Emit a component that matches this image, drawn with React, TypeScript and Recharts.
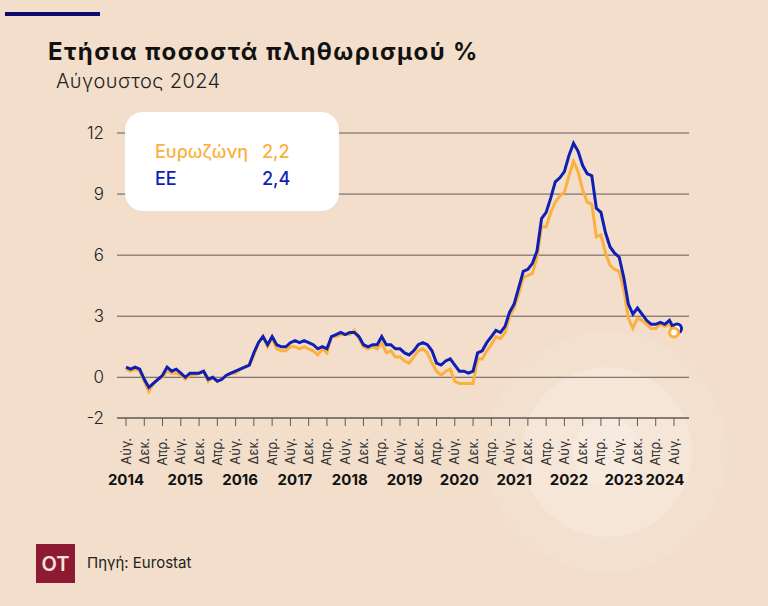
import { CartesianGrid, Legend, Line, LineChart, XAxis, YAxis } from 'recharts';

// Μηνιαία δεδομένα Αύγ. 2014 – Αύγ. 2024 (ετήσιος πληθωρισμός %, Eurostat)
const euroArea: number[] = [
  0.4, 0.3, 0.4, 0.3, -0.2,
  -0.7, -0.3, -0.1, 0.0, 0.3, 0.2, 0.2, 0.1, -0.1, 0.1, 0.1, 0.2,
  0.3, -0.2, 0.0, -0.2, -0.1, 0.1, 0.2, 0.2, 0.4, 0.5, 0.6, 1.1,
  1.7, 2.0, 1.5, 1.9, 1.4, 1.3, 1.3, 1.5, 1.5, 1.4, 1.5, 1.4,
  1.3, 1.1, 1.4, 1.2, 2.0, 2.0, 2.1, 2.1, 2.1, 2.3, 1.9, 1.5,
  1.4, 1.5, 1.4, 1.7, 1.2, 1.3, 1.0, 1.0, 0.8, 0.7, 1.0, 1.3,
  1.4, 1.2, 0.7, 0.3, 0.1, 0.3, 0.4, -0.2, -0.3, -0.3, -0.3, -0.3,
  0.9, 0.9, 1.3, 1.6, 2.0, 1.9, 2.2, 3.0, 3.4, 4.1, 4.9, 5.0,
  5.1, 5.9, 7.4, 7.4, 8.1, 8.6, 8.9, 9.1, 9.9, 10.6, 10.1, 9.2,
  8.6, 8.5, 6.9, 7.0, 6.1, 5.5, 5.3, 5.2, 4.3, 2.9, 2.4, 2.9,
  2.8, 2.6, 2.4, 2.4, 2.6, 2.5, 2.6, 2.2,
];

const eu: number[] = [
  0.5, 0.4, 0.5, 0.4, -0.1,
  -0.5, -0.3, -0.1, 0.1, 0.5, 0.3, 0.4, 0.2, 0.0, 0.2, 0.2, 0.2,
  0.3, -0.1, 0.0, -0.2, -0.1, 0.1, 0.2, 0.3, 0.4, 0.5, 0.6, 1.2,
  1.7, 2.0, 1.6, 2.0, 1.6, 1.5, 1.5, 1.7, 1.8, 1.7, 1.8, 1.7,
  1.6, 1.4, 1.5, 1.4, 2.0, 2.1, 2.2, 2.1, 2.2, 2.2, 2.0, 1.6,
  1.5, 1.6, 1.6, 2.0, 1.6, 1.6, 1.4, 1.4, 1.2, 1.1, 1.3, 1.6,
  1.7, 1.6, 1.3, 0.7, 0.6, 0.8, 0.9, 0.6, 0.3, 0.3, 0.2, 0.3,
  1.2, 1.3, 1.7, 2.0, 2.3, 2.2, 2.5, 3.2, 3.6, 4.4, 5.2, 5.3,
  5.6, 6.2, 7.8, 8.1, 8.8, 9.6, 9.8, 10.1, 10.9, 11.5, 11.1, 10.4,
  10.0, 9.9, 8.3, 8.1, 7.1, 6.4, 6.1, 5.9, 4.9, 3.6, 3.1, 3.4,
  3.1, 2.8, 2.6, 2.6, 2.7, 2.6, 2.8, 2.4,
];

// κατηγορίες: "2014-08" ... "2024-08"
const months: string[] = [];
for (let y = 2014, m = 8; months.length < euroArea.length; m++) {
  if (m > 12) { m = 1; y++; }
  months.push(`${y}-${String(m).padStart(2, '0')}`);
}

const monthNames: Record<string, string> = { '04': 'Απρ.', '08': 'Αύγ.', '12': 'Δεκ.' };
const monthTicks = months.filter((m) => m.slice(5) in monthNames);
const yearTicks = [
  '2014-08', '2015-09', '2016-09', '2017-09', '2018-09', '2019-09',
  '2020-09', '2021-09', '2022-09', '2023-09', '2024-06',
];
const yTicks = [-2, 0, 3, 6, 9, 12];

const data = months.map((month, i) => ({ month, euroArea: euroArea[i], eu: eu[i] }));
const last = data.length - 1;

const ORANGE = '#FBB03F';
const BLUE = '#0E1FB6';
const BG = '#F2DECB';
const FONT = 'Inter, "Noto Sans", sans-serif';

const fmt = (v: number) => v.toFixed(1).replace('.', ',');

const MonthTick = ({ x, y, payload }: any) => (
  <text
    x={x}
    y={y}
    dy="0.35em"
    textAnchor="end"
    transform={`rotate(-90, ${x}, ${y})`}
    fontSize={13}
    fill="#333"
    fontFamily={FONT}
  >
    {monthNames[String(payload.value).slice(5)]}
  </text>
);

// κυκλάκι μόνο στο τελευταίο σημείο
const endDot = (color: string, nudge = 0) => (props: any) =>
  props.index === last ? (
    <circle key="end" cx={props.cx + nudge} cy={props.cy} r={4.5} fill="#fff" stroke={color} strokeWidth={3} />
  ) : (
    <g key={props.index} />
  );

const LegendBox = () => (
  <div
    style={{
      width: 214,
      height: 99,
      background: '#fff',
      borderRadius: 18,
      fontFamily: FONT,
      fontSize: 18,
      fontWeight: 500,
      position: 'relative',
    }}
  >
    <div style={{ position: 'absolute', left: 30, top: 29, color: ORANGE }}>Ευρωζώνη</div>
    <div style={{ position: 'absolute', left: 137, top: 29, color: ORANGE }}>{fmt(euroArea[last])}</div>
    <div style={{ position: 'absolute', left: 30, top: 56, color: BLUE }}>ΕΕ</div>
    <div style={{ position: 'absolute', left: 137, top: 56, color: BLUE }}>{fmt(eu[last])}</div>
  </div>
);

const circle = (r: number, color: string) => (
  <div
    style={{
      position: 'absolute',
      left: 607 - r,
      top: 452 - r,
      width: r * 2,
      height: r * 2,
      borderRadius: '50%',
      background: color,
    }}
  />
);

export default function App() {
  return (
    <div
      style={{
        position: 'absolute',
        left: 0,
        top: 0,
        width: 768,
        height: 606,
        background: BG,
        overflow: 'hidden',
        fontFamily: FONT,
      }}
    >
      {circle(120, '#F3E1D0')}
      {circle(85, '#F5E6D8')}
      {circle(34, '#F7EBE0')}
      <div style={{ position: 'absolute', left: 5, top: 12, width: 95, height: 4, background: '#0C0C6E' }} />
      <div
        style={{
          position: 'absolute',
          left: 48,
          top: 37,
          fontSize: 24,
          fontWeight: 700,
          letterSpacing: 1.4,
          color: '#111',
          whiteSpace: 'nowrap',
        }}
      >
        Ετήσια ποσοστά πληθωρισμού %
      </div>
      <div
        style={{
          position: 'absolute',
          left: 56,
          top: 69,
          fontSize: 20,
          fontWeight: 300,
          letterSpacing: 0.4,
          color: '#222',
          whiteSpace: 'nowrap',
        }}
      >
        Αύγουστος 2024
      </div>

      <div style={{ position: 'absolute', left: 0, top: 0 }}>
        <LineChart
          width={768}
          height={606}
          data={data}
          margin={{ top: 133, right: 79, bottom: 108, left: 77 }}
        >
          <CartesianGrid vertical={false} stroke="#5f5a55" />
          <XAxis
            dataKey="month"
            ticks={monthTicks}
            interval={0}
            padding={{ left: 9, right: 15 }}
            height={56}
            tickSize={8}
            tickMargin={12}
            axisLine={{ stroke: '#5f5a55' }}
            tickLine={{ stroke: '#5f5a55' }}
            tick={<MonthTick />}
          />
          <XAxis
            xAxisId="year"
            dataKey="month"
            ticks={yearTicks}
            interval={0}
            padding={{ left: 9, right: 15 }}
            height={24}
            tickSize={0}
            tickMargin={0}
            axisLine={false}
            tickLine={false}
            tickFormatter={(v: string) => v.slice(0, 4)}
            tick={{ fontSize: 15, fontWeight: 700, fill: '#111', fontFamily: FONT }}
          />
          <YAxis
            type="number"
            domain={[-2, 12]}
            ticks={yTicks}
            interval={0}
            width={40}
            tickSize={0}
            tickMargin={13}
            axisLine={false}
            tickLine={false}
            tick={{ fontSize: 17, fontWeight: 300, fill: '#222', fontFamily: FONT }}
          />
          <Legend
            layout="vertical"
            align="center"
            verticalAlign="middle"
            wrapperStyle={{ left: 125, top: 112, width: 214, height: 99 }}
            content={<LegendBox />}
          />
          <Line
            type="linear"
            dataKey="euroArea"
            name="Ευρωζώνη"
            stroke={ORANGE}
            strokeWidth={3}
            dot={false}
            activeDot={false}
            isAnimationActive={false}
          />
          <Line
            type="linear"
            dataKey="eu"
            name="ΕΕ"
            stroke={BLUE}
            strokeWidth={3}
            dot={endDot(BLUE, 3)}
            activeDot={false}
            isAnimationActive={false}
          />
          {/* μόνο το τελικό σημείο της Ευρωζώνης, πάνω από την μπλε γραμμή */}
          <Line
            type="linear"
            dataKey="euroArea"
            stroke="none"
            legendType="none"
            dot={endDot(ORANGE)}
            activeDot={false}
            isAnimationActive={false}
          />
        </LineChart>
      </div>

      <div
        style={{
          position: 'absolute',
          left: 36,
          top: 544,
          width: 39,
          height: 39,
          background: '#8C1A32',
          color: '#F6E2D6',
          fontSize: 20,
          fontWeight: 600,
          display: 'flex',
          alignItems: 'center',
          justifyContent: 'center',
        }}
      >
        OT
      </div>
      <div style={{ position: 'absolute', left: 87, top: 553, fontSize: 15, color: '#222' }}>
        Πηγή: Eurostat
      </div>
    </div>
  );
}
